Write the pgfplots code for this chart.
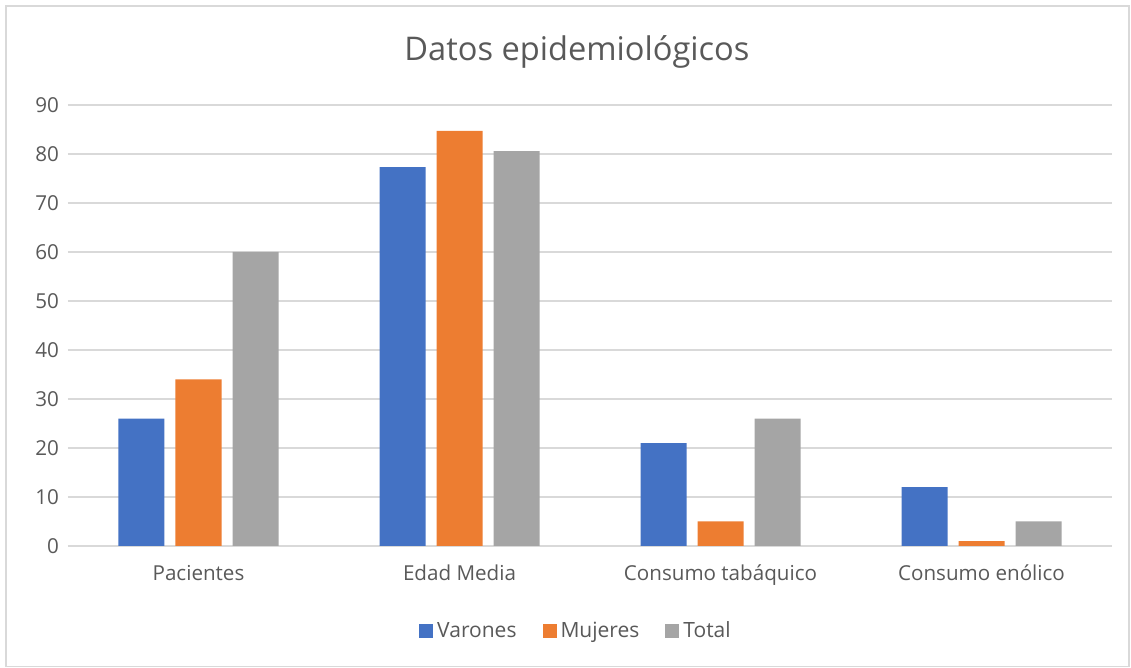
\documentclass[border=0pt]{standalone}
\usepackage{pgfplots}
\pgfplotsset{compat=1.18}
\usepackage{fontspec}
\setmainfont{Open Sans}
\definecolor{cblue}{HTML}{4472C4}
\definecolor{corange}{HTML}{ED7D31}
\definecolor{cgray}{HTML}{A5A5A5}
\definecolor{gridc}{HTML}{D9D9D9}
\definecolor{txt}{HTML}{595959}
\begin{document}
\begin{tikzpicture}
\useasboundingbox (0,0) rectangle (565.5pt,334pt);
\draw[gridc, line width=0.8pt] (3pt,0.8pt) rectangle (564.5pt,331pt);
\begin{axis}[
  at={(34pt,61pt)}, anchor=south west,
  scale only axis,
  width=522pt, height=220.5pt,
  xmin=-0.5, xmax=3.5, ymin=0, ymax=90,
  ytick={0,10,...,90},
  xtick={0,1,2,3},
  xticklabels={Pacientes, Edad Media, Consumo tabáquico, Consumo enólico},
  ybar=5.5pt, bar width=23pt,
  axis line style={draw=none},
  major tick length=0pt,
  ymajorgrids, grid style={gridc, line width=0.8pt},
  tick label style={font=\fontsize{10.3}{12}\selectfont, text=txt},
  /pgf/number format/assume math mode=true,
  yticklabel style={xshift=-1pt},
  xticklabel style={yshift=-6pt},
  title={Datos epidemiológicos},
  title style={font=\fontsize{16.3}{19}\selectfont, text=txt, at={(0.4875,1)}, yshift=9pt, anchor=south},
  legend style={at={(0.4875,-0.193)}, anchor=center, draw=none, legend columns=-1,
    font=\fontsize{10.5}{12}\selectfont, text=txt,
    /tikz/every even column/.append style={column sep=11pt}},
  legend image code/.code={\fill[#1] (0pt,-3.5pt) rectangle (7pt,3.5pt);},
]
\addplot[fill=cblue, draw=none] coordinates {(0,26) (1,77.3) (2,21) (3,12)};
\addplot[fill=corange, draw=none] coordinates {(0,34) (1,84.7) (2,5) (3,1)};
\addplot[fill=cgray, draw=none] coordinates {(0,60) (1,80.6) (2,26) (3,5)};
\legend{Varones, Mujeres, Total}
\end{axis}
\end{tikzpicture}
\end{document}
